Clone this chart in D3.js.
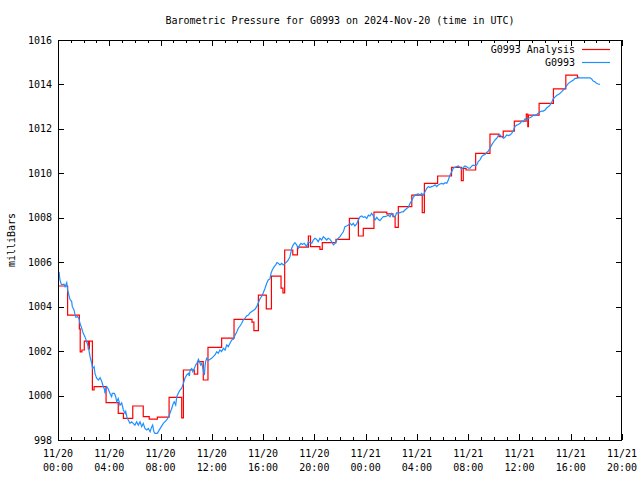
<!DOCTYPE html>
<html>
<head>
<meta charset="utf-8">
<script src="https://cdn.jsdelivr.net/npm/d3@7"></script>
<style>
  html, body { margin: 0; padding: 0; background: #fff; }
  svg { display: block; }
  text { font-family: "DejaVu Sans Mono", "Liberation Mono", monospace; font-size: 10px; fill: #000; }
</style>
</head>
<body>
<svg id="chart" width="640" height="480"></svg>
<script>
// ---------- DATA ----------
const chartTitle = "Barometric Pressure for G0993 on 2024-Nov-20 (time in UTC)";
const yAxisLabel = "milliBars";
const seriesNames = ["G0993 Analysis", "G0993"];
const startTime = Date.UTC(2024, 10, 20, 0, 0);   // 11/20 00:00 UTC
const endTime = Date.UTC(2024, 10, 21, 20, 0);    // 11/21 20:00 UTC
const yTicks = [998, 1000, 1002, 1004, 1006, 1008, 1010, 1012, 1014, 1016];

// Analysis series (step): minutes after 11/20 00:00 UTC, pressure (mb)
const analysisMinutes = [0, 45, 100, 104, 112, 123, 142, 147, 161, 169, 225, 282, 306, 350, 399, 427, 465, 520, 579, 587,
  638, 654, 680, 702, 766, 824, 908, 917, 938, 975, 999, 1044, 1053, 1061, 1099, 1121, 1172, 1182, 1226, 1237,
  1301, 1364, 1406, 1429, 1479, 1539, 1568, 1578, 1593, 1656, 1705, 1715, 1777, 1842, 1888, 1897, 1910, 1955,
  2022, 2064, 2084, 2136, 2192, 2199, 2202, 2252, 2319, 2377, 2431, 2440];
const analysisValues = [1004.93, 1003.62, 1003.0, 1001.97, 1002.05, 1002.45, 1002.1, 1002.45, 1000.25, 1000.4, 999.68, 999.2, 998.97, 999.53, 999.05, 998.94, 999.03, 999.92, 999.0, 1001.15,
  1000.96, 1001.53, 1000.7, 1002.17, 1002.58, 1003.43, 1003.3, 1002.92, 1004.52, 1003.9, 1005.37, 1004.83, 1004.62, 1006.55, 1006.33, 1006.68, 1007.18, 1006.7, 1006.58, 1006.88,
  1007.03, 1007.97, 1007.18, 1007.52, 1008.25, 1008.18, 1008.05, 1007.57, 1008.5, 1009.02, 1008.23, 1009.55, 1009.88, 1010.27, 1009.67, 1010.22, 1010.15, 1010.9,
  1011.76, 1011.65, 1011.9, 1012.35, 1012.66, 1012.1, 1012.62, 1013.15, 1013.8, 1014.42, 1014.32, 1014.32];

// Station observations: minutes after 11/20 00:00 UTC, pressure (mb)
const stationMinutes = [5, 9, 16, 25, 29, 33, 41, 45, 51, 56, 64, 67, 75, 80, 84, 92, 98, 103, 111, 118, 126, 134, 142, 150, 158, 162, 169, 173, 181, 189,
  197, 205, 212, 217, 220, 223, 228, 235, 243, 251, 254, 264, 270, 275, 282, 290, 298, 306, 314, 317, 322, 329, 337, 345, 352, 360, 368, 376, 384, 392,
  399, 407, 415, 423, 431, 439, 443, 449, 454, 465, 477, 493, 509, 520, 524, 532, 540, 544, 551, 556, 563, 571, 579, 587, 594, 602, 610, 615, 618, 626,
  631, 638, 645, 652, 657, 661, 668, 673, 680, 685, 688, 691, 696, 704, 712, 719, 727, 735, 743, 750, 758, 766, 774, 782, 790, 797, 805, 813, 821, 829,
  837, 844, 852, 860, 867, 875, 883, 891, 899, 907, 914, 922, 930, 938, 946, 954, 961, 969, 977, 984, 992, 997, 1003, 1012, 1019, 1025, 1031, 1039, 1047, 1055,
  1063, 1071, 1078, 1086, 1094, 1101, 1109, 1117, 1125, 1130, 1137, 1144, 1153, 1164, 1172, 1180, 1188, 1195, 1203, 1211, 1218, 1226, 1234, 1242, 1250, 1258, 1265, 1273, 1281, 1289,
  1297, 1305, 1312, 1320, 1328, 1336, 1343, 1351, 1359, 1367, 1375, 1382, 1390, 1398, 1406, 1414, 1422, 1429, 1437, 1445, 1453, 1460, 1468, 1476, 1484, 1492, 1499, 1507, 1515, 1523,
  1531, 1539, 1546, 1554, 1562, 1570, 1578, 1585, 1593, 1601, 1609, 1616, 1624, 1632, 1640, 1648, 1656, 1663, 1671, 1679, 1687, 1695, 1702, 1710, 1718, 1726, 1733, 1741, 1749, 1757,
  1765, 1773, 1780, 1788, 1796, 1804, 1812, 1820, 1827, 1835, 1843, 1850, 1858, 1866, 1874, 1882, 1890, 1897, 1905, 1913, 1921, 1929, 1937, 1944, 1952, 1960, 1967, 1975, 1983, 1991,
  1999, 2007, 2014, 2022, 2030, 2038, 2046, 2054, 2061, 2069, 2077, 2085, 2092, 2100, 2108, 2116, 2124, 2132, 2139, 2147, 2155, 2163, 2171, 2178, 2186, 2194, 2201, 2209, 2217, 2225,
  2233, 2241, 2248, 2256, 2264, 2272, 2280, 2288, 2295, 2303, 2311, 2319, 2326, 2334, 2342, 2350, 2358, 2365, 2373, 2381, 2389, 2397, 2405, 2413, 2420, 2428, 2436, 2490, 2498, 2505,
  2513, 2521, 2529, 2537];
const stationValues = [1005.57, 1005.2, 1004.99, 1005.0, 1005.0, 1004.9, 1005.08, 1004.75, 1004.52, 1004.33, 1004.23, 1004.0, 1003.85, 1003.62, 1003.52, 1003.55, 1003.47, 1003.25, 1003.03, 1002.8, 1002.65, 1002.42, 1002.2, 1001.75, 1001.45, 1001.22, 1001.3, 1001.0, 1000.78, 1000.7,
  1000.8, 1000.63, 1000.4, 1000.3, 1000.1, 1000.3, 1000.4, 1000.3, 1000.1, 999.95, 1000.1, 1000.1, 999.95, 999.72, 999.87, 999.57, 999.67, 999.35, 999.2, 999.28, 999.05, 998.9, 998.75, 998.82, 998.75, 998.67, 998.82, 998.67, 998.82, 998.6,
  998.75, 998.52, 998.45, 998.52, 998.37, 998.6, 998.67, 998.37, 998.3, 998.3, 998.5, 998.75, 998.9, 999.08, 999.2, 999.42, 999.65, 999.72, 999.57, 999.95, 1000.1, 1000.25, 1000.33, 1000.55, 1000.78, 1000.92, 1001.0, 1000.88, 1001.15, 1001.22,
  1001.08, 1001.22, 1001.38, 1001.48, 1001.63, 1001.55, 1001.38, 1001.45, 1001.15, 1000.92, 1001.3, 1001.53, 1001.68, 1001.58, 1001.63, 1001.68, 1001.75, 1001.83, 1001.97, 1001.9, 1002.05, 1001.98, 1002.13, 1002.05, 1002.28, 1002.2, 1002.35, 1002.5, 1002.53, 1002.72,
  1002.87, 1003.03, 1003.13, 1003.25, 1003.4, 1003.47, 1003.58, 1003.62, 1003.73, 1003.78, 1003.83, 1003.88, 1004.0, 1004.18, 1004.37, 1004.48, 1004.63, 1004.83, 1005.05, 1005.2, 1005.25, 1005.5, 1005.65, 1005.8, 1005.88, 1005.98, 1005.95, 1005.88, 1005.95, 1005.88,
  1005.95, 1006.02, 1006.1, 1006.25, 1006.63, 1006.78, 1006.88, 1006.78, 1006.63, 1006.75, 1006.85, 1006.8, 1006.85, 1006.7, 1006.92, 1006.88, 1006.85, 1007.0, 1007.08, 1007.03, 1006.92, 1007.08, 1007.0, 1007.15, 1007.08, 1007.0, 1007.08, 1007.03, 1006.92, 1006.78,
  1006.85, 1007.0, 1007.08, 1007.15, 1007.27, 1007.38, 1007.6, 1007.63, 1007.67, 1007.75, 1007.67, 1007.75, 1007.63, 1007.72, 1007.9, 1008.05, 1008.08, 1008.02, 1008.05, 1007.97, 1008.12, 1008.08, 1008.2, 1008.08, 1007.9, 1008.02, 1007.93, 1007.87, 1007.97, 1008.05,
  1008.05, 1008.08, 1008.12, 1008.05, 1008.2, 1008.08, 1008.05, 1008.23, 1008.2, 1008.23, 1008.27, 1008.27, 1008.35, 1008.42, 1008.47, 1008.65, 1008.77, 1008.92, 1009.02, 1009.05, 1009.07, 1009.02, 1009.1, 1009.02, 1009.17, 1009.33, 1009.4, 1009.37, 1009.4, 1009.43,
  1009.48, 1009.4, 1009.48, 1009.52, 1009.55, 1009.52, 1009.58, 1009.55, 1009.7, 1009.92, 1010.07, 1010.23, 1010.27, 1010.3, 1010.33, 1010.27, 1010.18, 1010.27, 1010.33, 1010.3, 1010.23, 1010.23, 1010.33, 1010.37, 1010.35, 1010.37, 1010.53, 1010.6, 1010.75, 1010.82,
  1010.85, 1010.94, 1011.0, 1011.13, 1011.28, 1011.4, 1011.5, 1011.58, 1011.7, 1011.73, 1011.65, 1011.58, 1011.62, 1011.73, 1011.7, 1011.73, 1011.8, 1011.95, 1012.1, 1012.17, 1012.2, 1012.25, 1012.35, 1012.32, 1012.45, 1012.4, 1012.47, 1012.5, 1012.55, 1012.62,
  1012.6, 1012.65, 1012.7, 1012.77, 1012.8, 1012.8, 1012.85, 1012.95, 1013.0, 1013.07, 1013.2, 1013.37, 1013.43, 1013.5, 1013.55, 1013.6, 1013.68, 1013.75, 1013.82, 1013.94, 1014.05, 1014.1, 1014.15, 1014.2, 1014.27, 1014.27, 1014.3, 1014.3, 1014.25, 1014.15,
  1014.12, 1014.05, 1014.02, 1014.0];

// ---------- CHART ----------
const W = 640, H = 480;
const M = { left: 58, right: 18, top: 40, bottom: 40 };
const svg = d3.select("#chart");

const x = d3.scaleUtc().domain([new Date(startTime), new Date(endTime)]).range([M.left, W - M.right]);
const y = d3.scaleLinear().domain([998, 1016]).range([H - M.bottom, M.top]);

const toDate = m => new Date(startTime + m * 60000);
const analysis = analysisMinutes.map((m, i) => ({ t: toDate(m), v: analysisValues[i] }));
const station = stationMinutes.map((m, i) => ({ t: toDate(m), v: stationValues[i] }));

const x0 = M.left, x1 = W - M.right, y0 = H - M.bottom, y1 = M.top;
const g = svg.append("g");

// ticks
const majorX = x.ticks(d3.utcHour.every(4));
const minorX = x.ticks(d3.utcHour.every(1));
const tickG = g.append("g").attr("stroke", "#000").attr("stroke-width", 1).attr("shape-rendering", "crispEdges");
minorX.forEach(d => {
  const px = Math.round(x(d)) + 0.5;
  const len = majorX.some(m => +m === +d) ? 6 : 3;
  tickG.append("line").attr("x1", px).attr("x2", px).attr("y1", y0).attr("y2", y0 - len);
  tickG.append("line").attr("x1", px).attr("x2", px).attr("y1", y1).attr("y2", y1 + len);
});
yTicks.forEach(v => {
  const py = Math.round(y(v)) + 0.5;
  tickG.append("line").attr("x1", x0).attr("x2", x0 + 6).attr("y1", py).attr("y2", py);
  tickG.append("line").attr("x1", x1).attr("x2", x1 - 6).attr("y1", py).attr("y2", py);
});

// tick labels
yTicks.forEach(v => {
  g.append("text").attr("x", x0 - 6).attr("y", y(v)).attr("dy", "0.35em")
    .attr("text-anchor", "end").text(v);
});
const fmtDate = d3.utcFormat("%m/%d"), fmtTime = d3.utcFormat("%H:%M");
majorX.forEach(d => {
  const t = g.append("text").attr("x", x(d)).attr("y", y0 + 17).attr("text-anchor", "middle");
  t.append("tspan").attr("x", x(d)).text(fmtDate(d));
  t.append("tspan").attr("x", x(d)).attr("dy", 14).text(fmtTime(d));
});

// series
g.append("path").datum(analysis)
  .attr("d", d3.line().x(d => x(d.t)).y(d => y(d.v)).curve(d3.curveStepAfter))
  .attr("fill", "none").attr("stroke", "#ff0000").attr("stroke-width", 1.2);
g.append("path").datum(station)
  .attr("d", d3.line().x(d => x(d.t)).y(d => y(d.v)))
  .attr("fill", "none").attr("stroke", "#1e90ff").attr("stroke-width", 1.2);

// border
g.append("rect").attr("x", x0 + 0.5).attr("y", y1 + 0.5).attr("width", x1 - x0 - 1).attr("height", y0 - y1)
  .attr("fill", "none").attr("stroke", "#000").attr("shape-rendering", "crispEdges");

// title & axis label
svg.append("text").attr("x", (x0 + x1) / 2).attr("y", 24).attr("text-anchor", "middle").text(chartTitle);
svg.append("text").attr("transform", `translate(15,${(y0 + y1) / 2}) rotate(-90)`)
  .attr("text-anchor", "middle").text(yAxisLabel);

// legend
const legendColors = ["#ff0000", "#1e90ff"];
seriesNames.forEach((name, i) => {
  const ly = 49.5 + i * 13;
  svg.append("text").attr("x", 575).attr("y", ly).attr("dy", "0.35em").attr("text-anchor", "end").text(name);
  svg.append("line").attr("x1", 582).attr("x2", 610).attr("y1", ly).attr("y2", ly)
    .attr("stroke", legendColors[i]).attr("stroke-width", 1.2);
});
</script>
</body>
</html>
